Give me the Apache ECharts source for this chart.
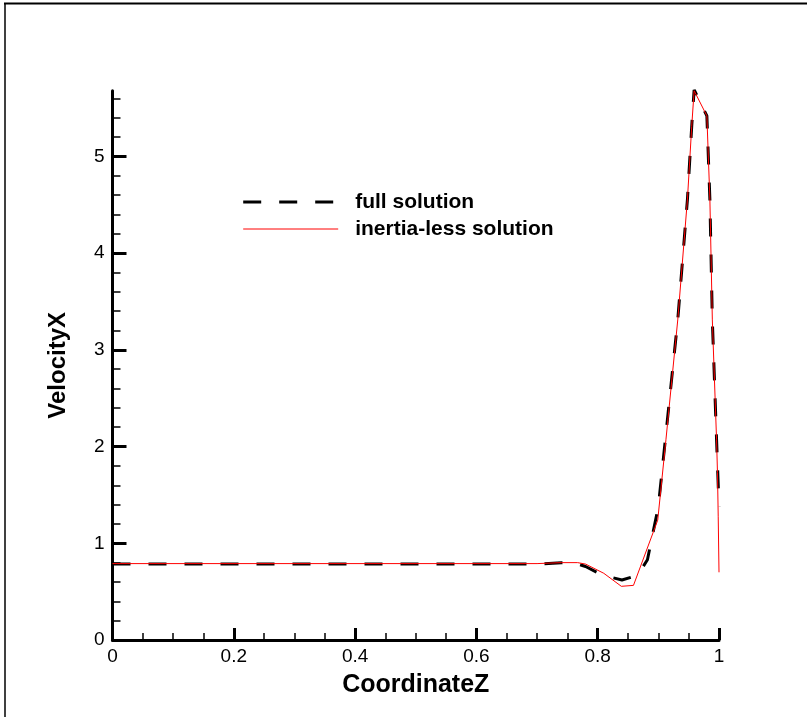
<!DOCTYPE html>
<html>
<head>
<meta charset="utf-8">
<script src="https://cdn.jsdelivr.net/npm/echarts@6/dist/echarts.min.js"></script>
<style>
  html, body { margin: 0; padding: 0; background: #fff; }
  #chart { width: 807px; height: 717px; }
</style>
</head>
<body>
<div id="chart"></div>
<script>
// Full solution profile (CoordinateZ, VelocityX)
const fullZ = [0, 0.70, 0.74, 0.76, 0.78, 0.808, 0.84, 0.866, 0.882, 0.90, 0.912, 0.932, 0.948, 0.955, 0.959, 0.98, 0.985, 0.989, 0.996, 1.0];
const fullV = [0.785, 0.785, 0.80, 0.80, 0.76, 0.67, 0.62, 0.67, 0.83, 1.38, 2.10, 3.31, 4.56, 5.31, 5.69, 5.42, 4.55, 3.31, 2.07, 1.38];

// Inertia-less solution profile
const inertZ = [0, 0.70, 0.74, 0.767, 0.78, 0.81, 0.839, 0.859, 0.899, 0.9125, 0.932, 0.948, 0.955, 0.959, 0.98, 0.985, 0.989, 0.996, 0.9975, 0.9987, 1.0];
const inertV = [0.79, 0.79, 0.80, 0.80, 0.785, 0.69, 0.555, 0.565, 1.24, 2.07, 3.31, 4.56, 5.31, 5.68, 5.42, 4.55, 3.31, 2.07, 1.73, 1.28, 0.70];

const xTicks = [0, 0.2, 0.4, 0.6, 0.8, 1];
const yTicks = [0, 1, 2, 3, 4, 5];

const seriesNames = ['full solution', 'inertia-less solution'];

const pair = (xs, ys) => xs.map((x, i) => [x, ys[i]]);

const FONT = 'Liberation Sans, Arial, sans-serif';

const chart = echarts.init(document.getElementById('chart'), null, { renderer: 'canvas' });

chart.setOption({
  backgroundColor: '#ffffff',
  animation: false,
  grid: { left: 112.5, right: 88, top: 90.7, bottom: 77, containLabel: false },
  legend: {
    orient: 'vertical',
    left: 241.7,
    top: 191.5,
    padding: 0,
    itemWidth: 95,
    itemHeight: 14,
    itemGap: 6,
    selectedMode: false,
    data: [
      { name: seriesNames[0], lineStyle: { width: 3, color: '#000', type: [18, 18] } },
      { name: seriesNames[1], lineStyle: { width: 1, color: '#ff0000' } }
    ],
    // keep only the line sample in each legend entry
    itemStyle: { color: 'transparent', borderWidth: 0, opacity: 0 },
    textStyle: { fontFamily: FONT, fontSize: 21, fontWeight: 'bold', color: '#000', padding: [0, 0, 0, 12] }
  },
  xAxis: {
    type: 'value',
    min: 0,
    max: 1,
    interval: 0.2,
    name: 'CoordinateZ',
    nameLocation: 'middle',
    nameGap: 33,
    nameTextStyle: { fontFamily: FONT, fontSize: 25, fontWeight: 'bold', color: '#000' },
    axisLine: { show: true, onZero: false, lineStyle: { color: '#000', width: 3 } },
    axisTick: { show: true, inside: true, length: 12, lineStyle: { color: '#000', width: 3 }, customValues: xTicks },
    minorTick: { show: true, splitNumber: 4, length: 7, lineStyle: { color: '#000', width: 1.5 } },
    axisLabel: { fontFamily: FONT, fontSize: 19, color: '#000', margin: 7, customValues: xTicks },
    splitLine: { show: false }
  },
  yAxis: {
    type: 'value',
    min: 0,
    max: 5.68,
    interval: 1,
    name: 'VelocityX',
    nameLocation: 'middle',
    nameGap: 42,
    nameRotate: 90,
    nameTextStyle: { fontFamily: FONT, fontSize: 24, fontWeight: 'bold', color: '#000' },
    axisLine: { show: true, onZero: false, lineStyle: { color: '#000', width: 3 } },
    axisTick: { show: true, inside: true, length: 14, lineStyle: { color: '#000', width: 3 }, customValues: yTicks },
    minorTick: { show: true, splitNumber: 5, length: 8, lineStyle: { color: '#000', width: 1.5 } },
    axisLabel: { fontFamily: FONT, fontSize: 19, color: '#000', margin: 8, customValues: yTicks },
    splitLine: { show: false }
  },
  series: [
    {
      name: seriesNames[0],
      type: 'line',
      data: pair(fullZ, fullV),
      symbol: 'none',
      color: '#000',
      lineStyle: { color: '#000', width: 3, type: [18, 18] },
      z: 2
    },
    {
      name: seriesNames[1],
      type: 'line',
      data: pair(inertZ, inertV),
      symbol: 'none',
      color: '#ff0000',
      lineStyle: { color: '#ff0000', width: 1 },
      z: 3
    }
  ],
  graphic: [
    { type: 'line', shape: { x1: 4, y1: 3.5, x2: 807, y2: 3.5 }, style: { stroke: '#000', lineWidth: 2 } },
    { type: 'line', shape: { x1: 5, y1: 3, x2: 5, y2: 717 }, style: { stroke: '#000', lineWidth: 1.5 } }
  ]
});
</script>
</body>
</html>
